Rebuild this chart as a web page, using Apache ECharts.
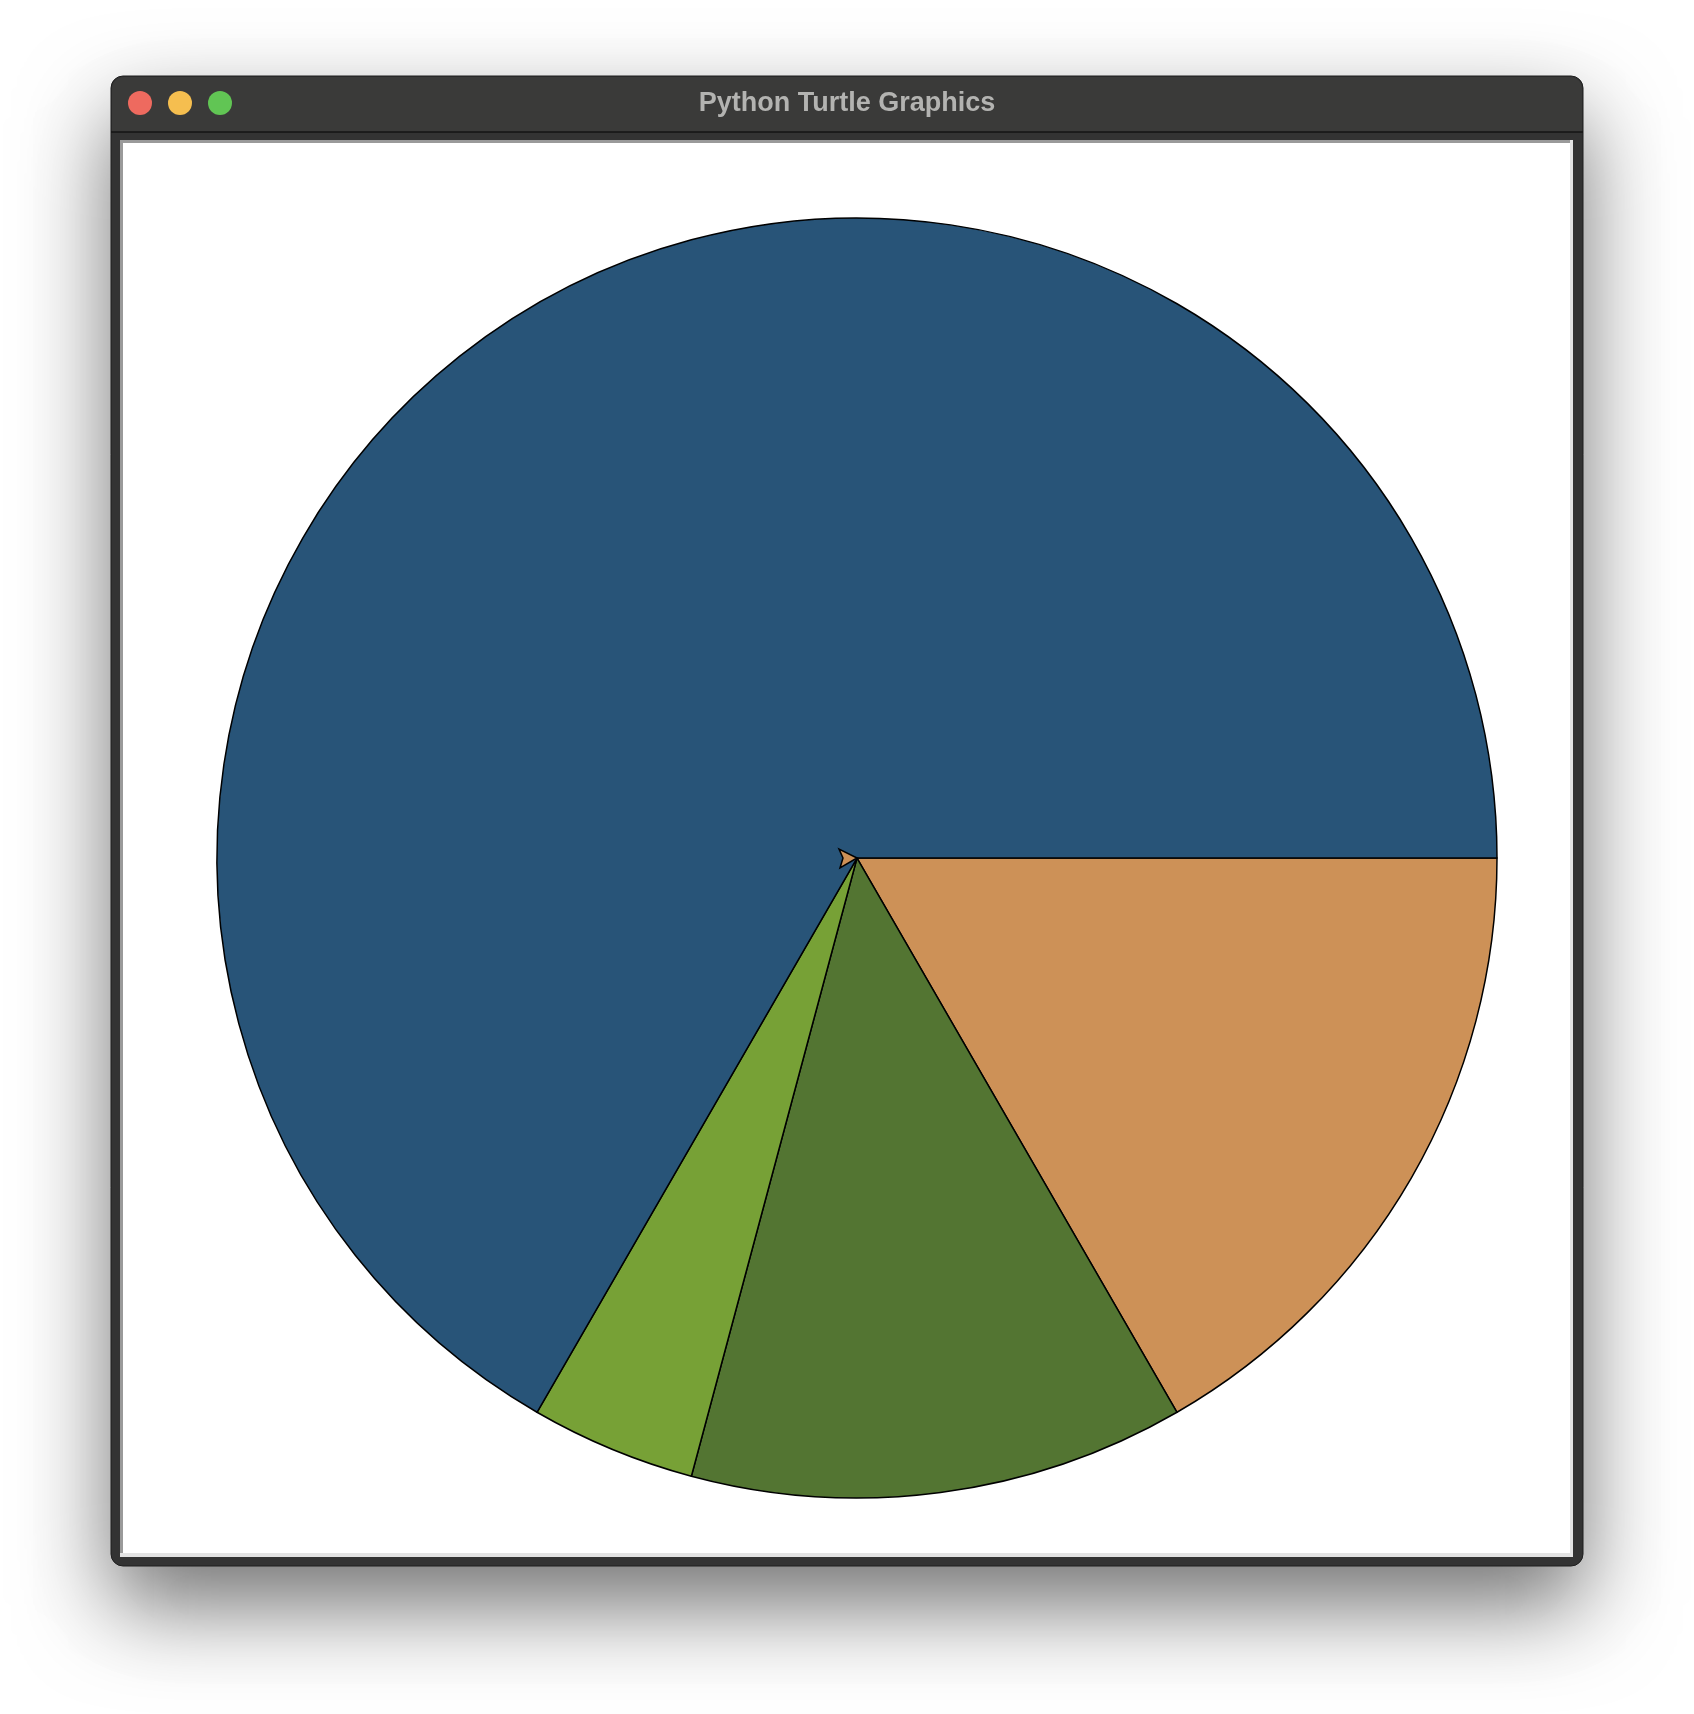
<!DOCTYPE html>
<html>
<head>
<meta charset="utf-8">
<script src="https://cdn.jsdelivr.net/npm/echarts@6/dist/echarts.min.js"></script>
<style>
html,body{margin:0;padding:0;background:#ffffff;}
#chart{width:1694px;height:1714px;}
</style>
</head>
<body>
<div id="chart"></div>
<script>
// Slice data (degrees of the full turn), drawn clockwise from 3 o'clock
var sliceNames = ['Orange', 'Dark green', 'Light green', 'Blue'];
var sliceValues = [60, 45, 15, 240];
var sliceColors = ['#cd9157', '#537532', '#77a136', '#285478'];
var windowTitle = 'Python Turtle Graphics';

var chart = echarts.init(document.getElementById('chart'), null, {renderer: 'canvas'});

var pieData = sliceNames.map(function (n, i) {
  return {name: n, value: sliceValues[i], itemStyle: {color: sliceColors[i]}};
});

var cx = 857, cy = 858;

chart.setOption({
  backgroundColor: '#ffffff',
  animation: false,
  graphic: [
    // window body with shadow
    {type: 'rect', z: 0, shape: {x: 111, y: 76, width: 1472, height: 1490, r: 12},
      style: {fill: '#343434', stroke: '#1e1e1e', lineWidth: 1,
        shadowBlur: 90, shadowOffsetY: 40, shadowColor: 'rgba(0,0,0,0.55)'}},
    // title bar
    {type: 'rect', z: 1, shape: {x: 112, y: 77, width: 1470, height: 55, r: [12, 12, 0, 0]},
      style: {fill: '#3a3a39'}},
    {type: 'line', z: 1, shape: {x1: 111, y1: 132, x2: 1583, y2: 132},
      style: {stroke: '#141414', lineWidth: 1.5}},
    // traffic lights
    {type: 'circle', z: 2, shape: {cx: 140, cy: 103, r: 12}, style: {fill: '#ee6a5f'}},
    {type: 'circle', z: 2, shape: {cx: 180, cy: 103, r: 12}, style: {fill: '#f5be4f'}},
    {type: 'circle', z: 2, shape: {cx: 220, cy: 103, r: 12}, style: {fill: '#61c554'}},
    // title
    {type: 'text', z: 2, x: 847, y: 104,
      style: {text: windowTitle, fill: '#b3b3b1', font: 'bold 27px "Liberation Sans", Arial, sans-serif',
        align: 'center', verticalAlign: 'middle'}},
    // canvas sunken border
    {type: 'rect', z: 1, shape: {x: 120, y: 140, width: 1453, height: 1417}, style: {fill: '#e3e3e3'}},
    {type: 'rect', z: 1, shape: {x: 120, y: 140, width: 1450, height: 1413}, style: {fill: '#9a9a9a'}},
    {type: 'rect', z: 1, shape: {x: 123, y: 143, width: 1447, height: 1410}, style: {fill: '#ffffff'}},
    // turtle cursor (classic arrow) at the pie centre
    {type: 'polygon', z: 100, x: cx, y: cy,
      shape: {points: [[0, 0], [-18, -9], [-14, 0], [-17, 10]]},
      style: {fill: '#cd9157', stroke: '#000', lineWidth: 1.5, lineJoin: 'miter'}}
  ],
  series: [{
    type: 'pie',
    z: 5,
    center: [cx, cy],
    radius: [0, 640],
    startAngle: 0,
    clockwise: true,
    minAngle: 0,
    avoidLabelOverlap: false,
    label: {show: false},
    labelLine: {show: false},
    emphasis: {disabled: true},
    itemStyle: {borderColor: '#000000', borderWidth: 1.5},
    data: pieData
  }]
});
</script>
</body>
</html>
